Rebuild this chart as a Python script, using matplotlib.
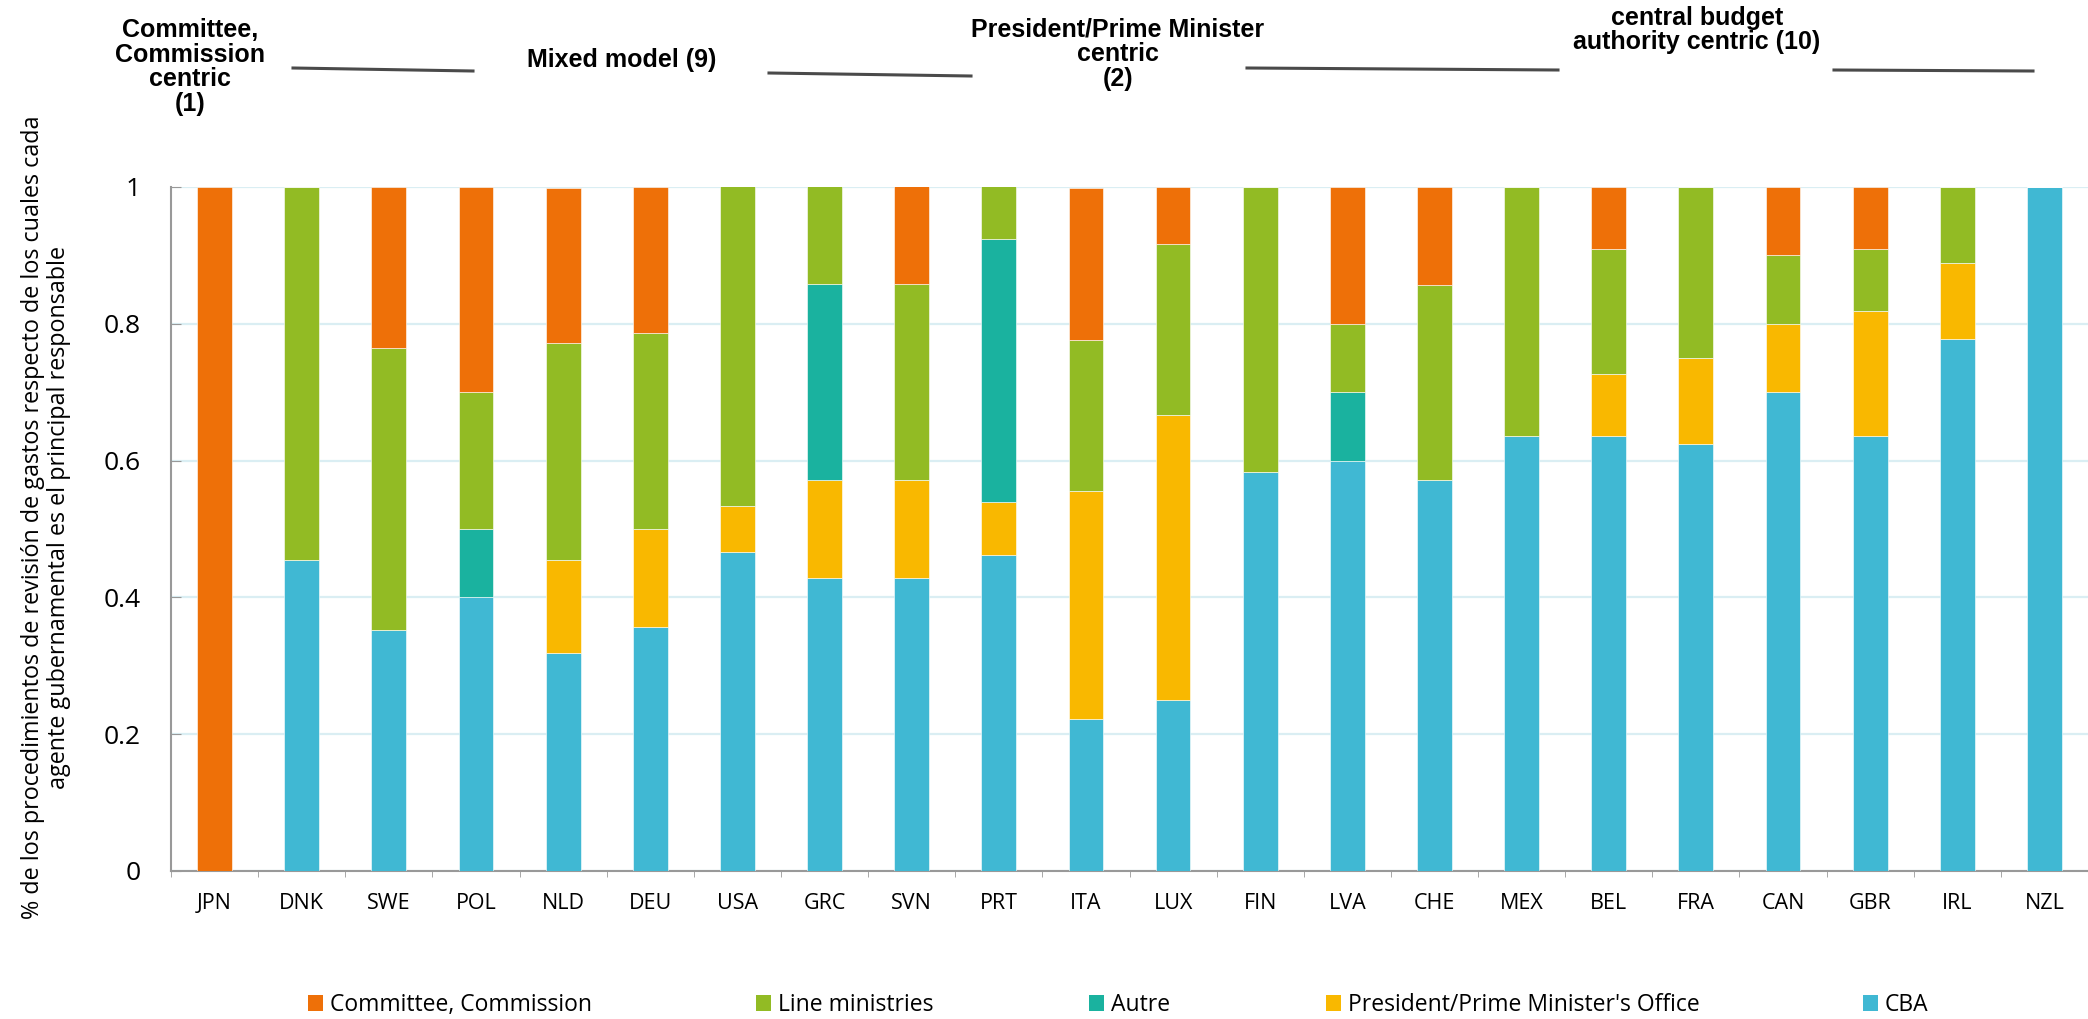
#!/usr/bin/env python3
# Revision de gastos: agente responsable por pais (barras apiladas al 100%)

import numpy as np
import matplotlib
matplotlib.use("Agg")
import matplotlib.pyplot as plt
from matplotlib.patches import Patch
from matplotlib.lines import Line2D

PAISES = ["JPN", "DNK", "SWE", "POL", "NLD", "DEU", "USA", "GRC", "SVN", "PRT", "ITA",
          "LUX", "FIN", "LVA", "CHE", "MEX", "BEL", "FRA", "CAN", "GBR", "IRL", "NZL"]

# segmentos de abajo hacia arriba
cba    = [0.0, 0.455, 0.353, 0.4, 0.318, 0.357, 0.467, 0.429, 0.429, 0.462, 0.222,
          0.25, 0.583, 0.6, 0.571, 0.636, 0.636, 0.625, 0.7, 0.636, 0.778, 1.0]
pm     = [0.0, 0.0, 0.0, 0.0, 0.136, 0.143, 0.067, 0.143, 0.143, 0.077, 0.333,
          0.417, 0.0, 0.0, 0.0, 0.0, 0.091, 0.125, 0.1, 0.182, 0.111, 0.0]
autre  = [0.0, 0.0, 0.0, 0.1, 0.0, 0.0, 0.0, 0.286, 0.0, 0.385, 0.0,
          0.0, 0.0, 0.1, 0.0, 0.0, 0.0, 0.0, 0.0, 0.0, 0.0, 0.0]
lineas = [0.0, 0.545, 0.412, 0.2, 0.318, 0.286, 0.467, 0.143, 0.286, 0.077, 0.222,
          0.25, 0.417, 0.1, 0.286, 0.364, 0.182, 0.25, 0.1, 0.091, 0.111, 0.0]
comite = [1.0, 0.0, 0.235, 0.3, 0.227, 0.214, 0.0, 0.0, 0.143, 0.0, 0.222,
          0.083, 0.0, 0.2, 0.143, 0.0, 0.091, 0.0, 0.1, 0.091, 0.0, 0.0]

SERIES = ["CBA", "President/Prime Minister's Office", "Autre", "Line ministries",
          "Committee, Commission"]
VALORES = [cba, pm, autre, lineas, comite]
COLORES = ["#40B8D3", "#F9B800", "#1AB29F", "#92BB24", "#EE7008"]

GRUPOS = ["Committee,\nCommission\ncentric\n(1)", "Mixed model (9)",
          "President/Prime Minister\ncentric\n(2)", "central budget\nauthority centric (10)"]

FUENTE = ["Open Sans", "DejaVu Sans"]
W, H = 2088, 1019

fig = plt.figure(figsize=(W / 100, H / 100), dpi=100)
ax = fig.add_axes([171 / W, 1 - 871 / H, (W - 171) / W, (871 - 187) / H])

x = np.arange(len(PAISES))
base = np.zeros(len(PAISES))
for nombre, vals, color in zip(SERIES, VALORES, COLORES):
    vals = np.array(vals)
    ax.bar(x, vals, 0.4, bottom=base, color=color, label=nombre,
           edgecolor="white", linewidth=0.4, zorder=3)
    base += vals

ax.set_xlim(-0.5, len(PAISES) - 0.5)
ax.set_ylim(0, 1)
ax.set_yticks([0, 0.2, 0.4, 0.6, 0.8, 1.0])
ax.set_yticklabels(["0", "0.2", "0.4", "0.6", "0.8", "1"], family=FUENTE, fontsize=19)
ax.yaxis.grid(True, color="#DAEEF3", linewidth=1.6, zorder=0)
ax.tick_params(axis="y", direction="in", length=7, color="#999999", pad=22)

ax.set_xticks(x)
ax.set_xticklabels(PAISES, family=FUENTE, fontsize=15.5)
ax.tick_params(axis="x", length=0, pad=16)
ax.set_xticks(np.arange(-0.5, len(PAISES), 1), minor=True)
ax.tick_params(axis="x", which="minor", direction="out", length=4.5, color="#999999")

for lado in ["top", "right"]:
    ax.spines[lado].set_visible(False)
for lado in ["left", "bottom"]:
    ax.spines[lado].set_color("#999999")
    ax.spines[lado].set_linewidth(1.5)

ax.set_ylabel("% de los procedimientos de revisión de gastos respecto de los cuales cada\n"
              "agente gubernamental es el principal responsable",
              family=FUENTE, fontsize=16.8, linespacing=1.12)
ax.yaxis.set_label_coords(-(171 - 71) / (W - 171), 0.517)

# encabezados de grupos
pos_grupos = [(190, 67), (622, 60), (1118, 54), (1697, 30)]
for txt, (gx, gy) in zip(GRUPOS, pos_grupos):
    fig.text(gx / W, 1 - gy / H, txt, ha="center", va="center", fontsize=18,
             fontweight="bold", family=["Liberation Sans", "DejaVu Sans"], linespacing=1.05)

segmentos = [((293, 68), (473, 71)), ((769, 73), (971, 76)),
             ((1247, 68), (1558, 70)), ((1834, 70), (2033, 71))]
for (x0, y0), (x1, y1) in segmentos:
    fig.add_artist(Line2D([x0 / W, x1 / W], [1 - y0 / H, 1 - y1 / H],
                          color="#4a4a4a", linewidth=2.2, transform=fig.transFigure))

# leyenda: un elemento por posicion
pos_leyenda = [308, 756, 1089, 1326, 1863]
for i, xl in zip(range(len(SERIES) - 1, -1, -1), pos_leyenda):
    h = Patch(facecolor=COLORES[i], edgecolor="none")
    fig.legend(handles=[h], labels=[SERIES[i]], loc="center left",
               bbox_to_anchor=(xl / W, 1 - 1005 / H), frameon=False,
               prop={"family": FUENTE, "size": 16.5}, handlelength=0.65,
               handleheight=0.65, handletextpad=0.3, borderpad=0, borderaxespad=0)

fig.savefig("out.png", dpi=100)
